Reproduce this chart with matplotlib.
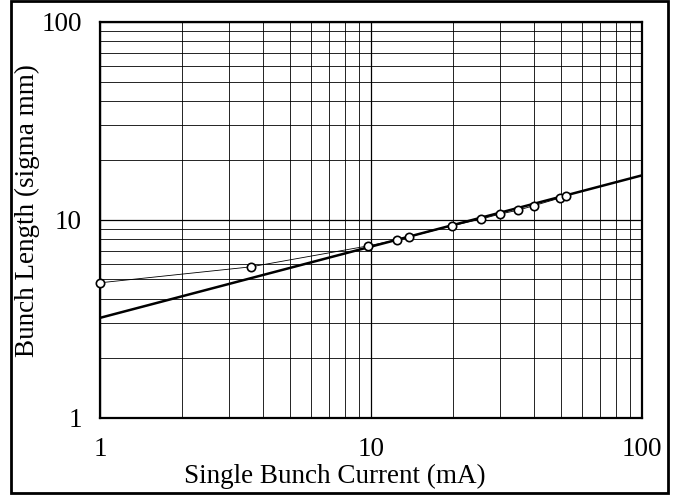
import numpy as np
import matplotlib.pyplot as plt
from matplotlib.ticker import FixedLocator, FixedFormatter, NullFormatter
from matplotlib.patches import Rectangle

# measured bunch length vs single bunch current
current = [1.0, 3.6, 9.75, 12.5, 13.8, 19.9, 25.5, 29.9, 34.9, 39.9, 49.8, 52.4]
length = [4.81, 5.79, 7.39, 7.93, 8.21, 9.33, 10.1, 10.7, 11.2, 11.8, 12.9, 13.2]

# power-law fit: length = a * current ** b
fitA = 3.2
fitB = 0.36
fitRange = [1, 100]

tickValues = [1, 10, 100]
tickLabels = ["1", "10", "100"]


def main():
    plt.rcParams['font.family'] = ['Liberation Serif', 'DejaVu Serif']
    fig = plt.figure(figsize=(6.81, 4.98), dpi=100)
    ax = fig.add_axes([0.147, 0.161, 0.796, 0.795])

    xs = np.logspace(np.log10(fitRange[0]), np.log10(fitRange[1]), 50)
    ax.plot(xs, fitA * xs ** fitB, color='k', lw=1.8, zorder=3)
    ax.plot(current, length, color='k', lw=0.6, zorder=3)
    ax.plot(current, length, 'o', color='k', mfc='white', mew=1.2, ms=6,
            zorder=4, clip_on=False)

    ax.set_xscale('log')
    ax.set_yscale('log')
    ax.set_xlim(1, 100)
    ax.set_ylim(1, 100)

    for axis in (ax.xaxis, ax.yaxis):
        axis.set_major_locator(FixedLocator(tickValues))
        axis.set_major_formatter(FixedFormatter(tickLabels))
        minors = [m * d for d in (1, 10) for m in range(2, 10)]
        axis.set_minor_locator(FixedLocator(minors))
        axis.set_minor_formatter(NullFormatter())

    ax.grid(True, which='major', color='k', lw=0.9)
    ax.grid(True, which='minor', color='k', lw=0.6)
    ax.tick_params(which='both', length=0, labelsize=19.5)
    ax.tick_params(axis='x', pad=14)
    ax.tick_params(axis='y', pad=13)
    for s in ax.spines.values():
        s.set_linewidth(1.6)

    fig.text(0.492, 0.044, "Single Bunch Current (mA)", fontsize=19.5,
             ha='center', va='center')
    fig.text(0.04, 0.578, "Bunch Length (sigma mm)", fontsize=19.5,
             ha='center', va='center', rotation=90)

    fig.patches.append(Rectangle((0.016, 0.01), 0.965, 0.988,
                                 transform=fig.transFigure, fill=False,
                                 edgecolor='k', lw=2))
    fig.savefig("out.png", dpi=100)


if __name__ == "__main__":
    main()
